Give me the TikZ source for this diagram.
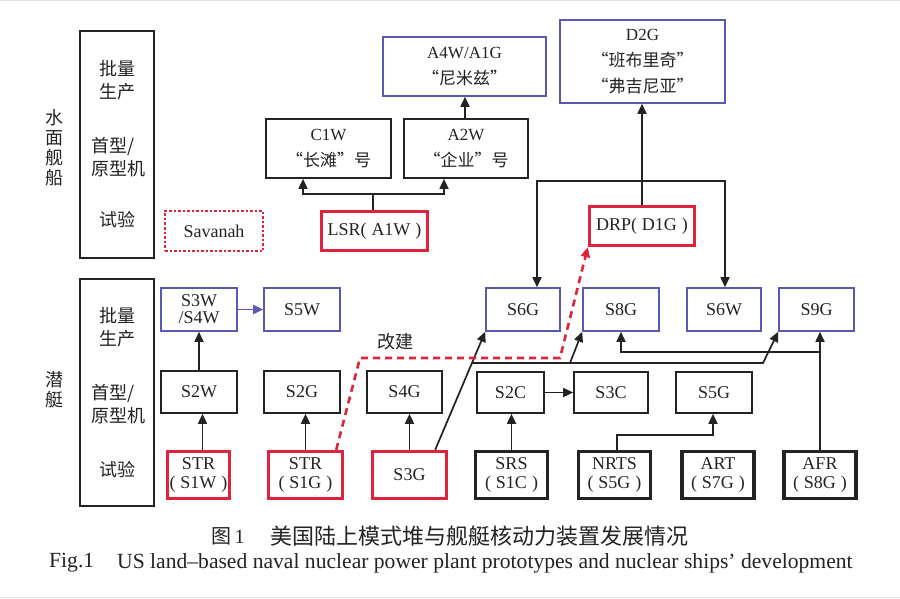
\documentclass[tikz,border=0pt]{standalone}
\usepackage{fontspec}
\setmainfont{Liberation Serif}
\newfontfamily\cjk{Noto Sans CJK SC}
\usetikzlibrary{arrows.meta}
\definecolor{ink}{RGB}{35,35,35}
\definecolor{bl}{RGB}{90,90,180}
\definecolor{rd}{RGB}{222,35,60}
\tikzset{
  base/.style={inner sep=0pt, align=center, text=ink, font=\fontsize{18}{19}\selectfont},
  kbox/.style={base, draw=ink, line width=1.7pt},
  bbox/.style={base, draw=bl, line width=1.6pt},
  rbox/.style={base, draw=rd, line width=3.4pt},
  tbox/.style={base, draw=ink, line width=3.8pt},
  sz/.style 2 args={minimum width=#1pt, minimum height=#2pt},
  ln/.style={draw=ink, line width=1.7pt},
  arr/.style={ln, -{Triangle[length=10pt,width=9pt]}},
  rarr/.style={draw=rd, line width=2.6pt, dash pattern=on 7pt off 5pt, -{Triangle[length=10pt,width=9pt]}},
  cat/.style={inner sep=0pt, align=center, text=ink, font=\cjk\fontsize{18}{23}\selectfont},
  two/.style={font=\fontsize{17}{26}\selectfont},
}
\begin{document}
\begin{tikzpicture}[x=1pt,y=-1pt]
\fill[white] (0,0) rectangle (900,599);
\useasboundingbox (0,0) rectangle (900,599);
\draw[gray!25, line width=1pt] (0,1) -- (900,1);
\draw[gray!25, line width=1pt] (0,597) -- (900,597);

% category columns
\node[kbox, sz={74}{227}] (catS) at (117,144.5) {};
\node[kbox, sz={74}{227}] (catU) at (117,392.5) {};
\node[cat, font=\cjk\fontsize{18}{20}\selectfont] (lblS) at (54,148) {水\\面\\舰\\船};
\node[cat, font=\cjk\fontsize{18}{20}\selectfont] (lblU) at (54,390) {潜\\艇};
\node[cat] (sA) at (117,80) {批量\\生产};
\node[cat, align=left] (sB) at (118,157) {首型/\\原型机};
\node[cat] (sC) at (117,220) {试验};
\node[cat] (uA) at (117,327) {批量\\生产};
\node[cat, align=left] (uB) at (118,404) {首型/\\原型机};
\node[cat] (uC) at (117,470) {试验};

% surface ships
\node[base, draw=rd, line width=2.8pt, dash pattern=on 2.5pt off 2pt, sz={98}{40}] (sav) at (214,231) {Savanah};
\node[kbox, two, sz={125}{59}] (c1w) at (328.5,148.5) {C1W\\{\cjk “长滩”号}};
\node[kbox, two, sz={124}{59}] (a2w) at (466,148.5) {A2W\\{\cjk “企业”号}};
\node[bbox, two, sz={163}{59}] (a4w) at (464.5,66.5) {A4W/A1G\\{\cjk “尼米兹”}};
\node[rbox, sz={106}{39}] (lsr) at (374.5,231) {LSR(\;A1W\;)};
\node[bbox, two, sz={165}{83}] (d2g) at (642.5,61.5) {D2G\\{\cjk “班布里奇”}\\{\cjk “弗吉尼亚”}};
\node[rbox, sz={105}{39}] (drp) at (642,226) {DRP(\;D1G\;)};

% submarines - production
\node[bbox, font=\fontsize{18}{17}\selectfont, sz={76}{43}] (s3w) at (199,309.5) {S3W\\/S4W};
\node[bbox, sz={76}{43}] (s5w) at (302,309.5) {S5W};
\node[bbox, sz={74}{43}] (s6g) at (523,309.5) {S6G};
\node[bbox, sz={76}{43}] (s8g) at (621,309.5) {S8G};
\node[bbox, sz={74}{43}] (s6w) at (724,309.5) {S6W};
\node[bbox, sz={75}{43}] (s9g) at (816.5,309.5) {S9G};

% submarines - prototypes
\node[kbox, sz={76}{42}] (s2w) at (199,392) {S2W};
\node[kbox, sz={76}{42}] (s2g) at (302,392) {S2G};
\node[kbox, sz={75}{42}] (s4g) at (404.5,392) {S4G};
\node[kbox, sz={67}{41}] (s2c) at (510.5,392.5) {S2C};
\node[kbox, sz={74}{41}] (s3c) at (611,392.5) {S3C};
\node[kbox, sz={76}{41}] (s5g) at (714,392.5) {S5G};

% submarines - test
\node[rbox, sz={62}{47}] (str1) at (198.5,475) {STR\\(\;S1W\;)};
\node[rbox, sz={74}{47}] (str2) at (305.5,475) {STR\\(\;S1G\;)};
\node[rbox, sz={74}{47}] (s3g) at (409.5,475) {S3G};
\node[tbox, sz={72}{47}] (srs) at (511.5,475) {SRS\\(\;S1C\;)};
\node[tbox, sz={72}{47}] (nrts) at (614.5,475) {NRTS\\(\;S5G\;)};
\node[tbox, sz={72}{47}] (art) at (718,475) {ART\\(\;S7G\;)};
\node[tbox, sz={72}{47}] (afr) at (820,475) {AFR\\(\;S8G\;)};

% connectors: surface
\coordinate (lj) at (373,194);
\draw[ln] (lsr.north -| lj) -- (lj);
\draw[arr] (lj) -| ([xshift=-25.5pt]c1w.south);
\draw[arr] (lj) -| ([xshift=-22pt]a2w.south);
\draw[arr] ([xshift=-1pt]a2w.north) -- ([xshift=-1pt]a2w.north |- a4w.south);
\coordinate (dj) at (642,181);
\draw[arr] (drp.north) -- (drp.north |- d2g.south);
\draw[arr] (dj) -| ([xshift=14pt]s6g.north);
\draw[arr] (dj) -| ([xshift=1pt]s6w.north);

% connectors: submarines
\draw[arr] ([xshift=4pt]str1.north) -- ([xshift=4pt]str1.north |- s2w.south);
\draw[arr] (s2w.north) -- (s2w.north |- s3w.south);
\draw[arr, draw=bl] (s3w.east) -- (s5w.west);
\draw[arr] (str2.north) -- (str2.north |- s2g.south);
\draw[arr] (s3g.north) -- (s3g.north |- s4g.south);
\draw[arr] ([xshift=-13pt]s3g.north east) -- (s6g.south west);
\coordinate (j3) at (472,363);
\coordinate (k8) at (570,363);
\coordinate (k9) at (763,363);
\draw[arr] (j3) -- (k8) -- (s8g.south west);
\draw[arr] (k8) -- (k9) -- (s9g.south west);
\draw[arr] (s2c.east) -- (s3c.west);
\draw[arr] (srs.north) -- (srs.north |- s2c.south);
\coordinate (nj) at (617,435);
\draw[arr] (nrts.north -| nj) -- (nj) -| ([xshift=-1pt]s5g.south);
\draw[arr] (afr.north) -- (afr.north |- s9g.south);
\coordinate (aj) at (820,352);
\draw[arr] (aj) -| (s8g.south);

% rebuild (red dashed)
\coordinate (r1) at (360,358);
\coordinate (r2) at (560,358);
\draw[rarr] ([xshift=-8pt]str2.north east) -- (r1) -- (r2) -- (drp.south west);
\node[cat] (gj) at (395,342) {改建};

% captions
\node[anchor=west, inner sep=0pt, text=ink, font=\cjk\fontsize{20}{22}\selectfont] (capA) at (211,536) {图\rmfamily\,1};
\node[anchor=west, inner sep=0pt, text=ink, font=\cjk\fontsize{22}{23}\selectfont] (capB) at (270,536) {美国陆上模式堆与舰艇核动力装置发展情况};
\node[anchor=west, inner sep=0pt, text=ink, font=\fontsize{21.6}{22}\selectfont] (capC) at (49,563) {Fig.1};
\node[anchor=west, inner sep=0pt, text=ink, font=\fontsize{21.6}{22}\selectfont] (capD) at (117,563) {US land–based naval nuclear power plant prototypes and nuclear ships' development};
\end{tikzpicture}
\end{document}
